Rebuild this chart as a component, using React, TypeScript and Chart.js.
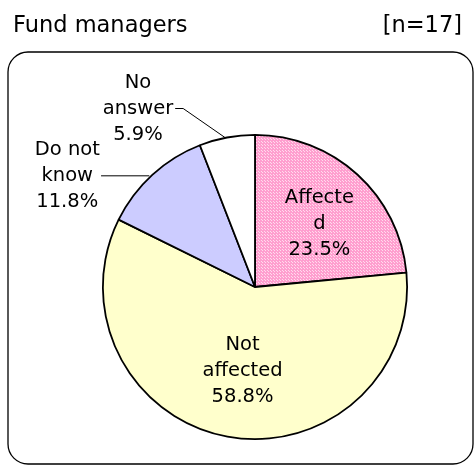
import React, { useEffect, useRef } from "react";
import { Chart, registerables } from "chart.js";

Chart.register(...registerables);

const TITLE = "Fund managers";
const SAMPLE = "[n=17]";
const categories = ["Affected", "Not affected", "Do not know", "No answer"];
const labelLines = [["Affecte", "d"], ["Not", "affected"], ["Do not", "know"], ["No", "answer"]];
const values = [23.5, 58.8, 11.8, 5.9];
const colors = ["pattern", "#ffffcc", "#ccccff", "#ffffff"];

// label placement styles: inside labels (polar fraction of radius) and outside (offset from arc edge)
const labelStyle = [
  { kind: "inside", frac: 0.6, dx: 3, dy: 4 },
  { kind: "inside", frac: 0.56, dx: 3, dy: 0 },
  { kind: "outside", dx: -85, dy: 1, lead: "straight" },
  { kind: "outside", dx: -89, dy: -29, lead: "elbow" },
];

const FONT = "'DejaVu Sans', sans-serif";

function makePattern(): CanvasPattern | string {
  const c = document.createElement("canvas");
  c.width = 3;
  c.height = 3;
  const g = c.getContext("2d");
  if (!g) return "#ffaad5";
  g.fillStyle = "#ff9fcf";
  g.fillRect(0, 0, 3, 3);
  g.fillStyle = "#ffdcee";
  g.fillRect(0, 0, 1, 1);
  g.fillRect(1, 1, 1, 1);
  const p = g.createPattern(c, "repeat");
  return p || "#ffaad5";
}

const decorPlugin = {
  id: "decor",
  beforeDraw(chart: any) {
    const ctx = chart.ctx as CanvasRenderingContext2D;
    ctx.save();
    ctx.fillStyle = "#fff";
    ctx.fillRect(0, 0, chart.width, chart.height);
    // title
    ctx.fillStyle = "#000";
    ctx.font = `22.5px ${FONT}`;
    ctx.textBaseline = "alphabetic";
    ctx.textAlign = "left";
    ctx.fillText(TITLE, 13, 32);
    ctx.textAlign = "right";
    ctx.fillText(SAMPLE, 462, 32);
    // frame
    const x = 8, y = 52, w = 465, h = 412, r = 20;
    ctx.beginPath();
    ctx.moveTo(x + r, y);
    ctx.lineTo(x + w - r, y);
    ctx.arcTo(x + w, y, x + w, y + r, r);
    ctx.lineTo(x + w, y + h - r);
    ctx.arcTo(x + w, y + h, x + w - r, y + h, r);
    ctx.lineTo(x + r, y + h);
    ctx.arcTo(x, y + h, x, y + h - r, r);
    ctx.lineTo(x, y + r);
    ctx.arcTo(x, y, x + r, y, r);
    ctx.closePath();
    ctx.lineWidth = 1.3;
    ctx.strokeStyle = "#000";
    ctx.stroke();
    ctx.restore();
  },
  afterDraw(chart: any) {
    const ctx = chart.ctx as CanvasRenderingContext2D;
    const meta = chart.getDatasetMeta(0);
    ctx.save();
    ctx.font = `19.5px ${FONT}`;
    ctx.fillStyle = "#000";
    ctx.textAlign = "center";
    ctx.textBaseline = "middle";
    const lineH = 26;
    meta.data.forEach((arc: any, i: number) => {
      const { x, y, startAngle, endAngle, outerRadius } = arc.getProps(
        ["x", "y", "startAngle", "endAngle", "outerRadius"],
        true
      );
      const mid = (startAngle + endAngle) / 2;
      const st = labelStyle[i];
      const lines = [...labelLines[i], values[i].toFixed(1) + "%"];
      let cx: number, cy: number;
      if (st.kind === "inside") {
        cx = x + Math.cos(mid) * outerRadius * (st as any).frac + st.dx;
        cy = y + Math.sin(mid) * outerRadius * (st as any).frac + st.dy;
      } else {
        const ex = x + Math.cos(mid) * outerRadius;
        const ey = y + Math.sin(mid) * outerRadius;
        cx = ex + st.dx;
        cy = ey + st.dy;
        const w2 = ctx.measureText(lines[1]).width / 2;
        ctx.beginPath();
        ctx.lineWidth = 1;
        ctx.strokeStyle = "#000";
        if ((st as any).lead === "elbow") {
          ctx.moveTo(cx + w2 + 2, cy);
          ctx.lineTo(cx + w2 + 10, cy);
          ctx.lineTo(ex - 2, ey);
        } else {
          ctx.moveTo(cx + w2 + 8, cy);
          ctx.lineTo(ex - 3, ey + 1);
        }
        ctx.stroke();
      }
      lines.forEach((t, k) => {
        ctx.fillText(t, cx, cy + (k - 1) * lineH);
      });
    });
    ctx.restore();
  },
};

export default function App() {
  const ref = useRef<HTMLCanvasElement | null>(null);
  useEffect(() => {
    if (!ref.current) return;
    const pattern = makePattern();
    const bg = colors.map((c) => (c === "pattern" ? pattern : c));
    const chart = new Chart(ref.current, {
      type: "pie",
      data: {
        labels: categories,
        datasets: [
          {
            data: values,
            backgroundColor: bg as any,
            borderColor: "#000",
            borderWidth: 1.8,
          },
        ],
      },
      options: {
        responsive: false,
        animation: false,
        layout: { padding: { left: 102, right: 66, top: 134, bottom: 26 } },
        plugins: {
          legend: { display: false },
          tooltip: { enabled: false },
        },
      },
      plugins: [decorPlugin],
    });
    return () => chart.destroy();
  }, []);
  return (
    <div style={{ position: "absolute", left: 0, top: 0, width: 474, height: 466 }}>
      <canvas ref={ref} width={474} height={466} />
    </div>
  );
}
